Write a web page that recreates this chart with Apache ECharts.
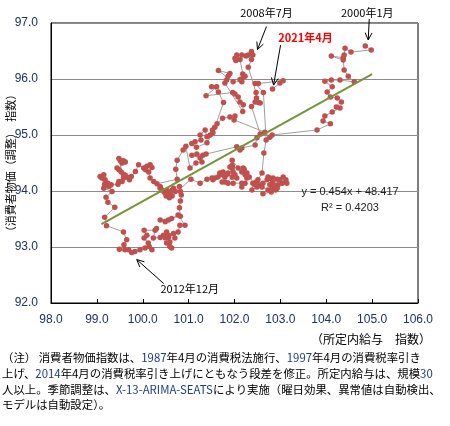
<!DOCTYPE html>
<html><head><meta charset="utf-8">
<script src="https://cdn.jsdelivr.net/npm/echarts@6/dist/echarts.min.js"></script>
<style>html,body{margin:0;padding:0;background:#fff}#c{width:450px;height:426px}</style>
</head><body><div id="c"></div>
<script>
// [所定内給与 指数, 消費者物価(調整) 指数] in time order, split by period
const path2000to2002 = [
[104.85,96.59],[104.98,96.52],[104.54,96.48],[104.41,96.55],[104.39,96.43],[104.37,96.38],[104.11,96.41],[104.37,96.34],[104.39,96.16],[104.48,96.05],[104.61,95.95],[104.30,95.98],[104.11,95.98],[103.97,95.96],[104.13,95.86],[104.02,95.77],[104.09,95.68],[104.24,95.66],[104.33,95.59],[104.22,95.50],[104.30,95.48],[104.13,95.41],[103.97,95.34],[103.93,95.25],[104.09,95.20],[103.80,95.09]
];
const path2003to2008 = [
[102.82,95.00],[102.77,94.96],[102.66,95.05],[101.99,95.27],[102.01,95.34],[101.90,95.32],[101.74,95.30],[101.62,95.20],[101.57,95.14],[101.52,95.09],[101.47,95.00],[101.40,94.97],[101.36,95.09],[101.25,95.00],[101.27,94.91],[101.14,94.88],[101.07,94.85],[101.17,94.78],[101.40,94.86],[101.53,95.04],[101.76,95.58],[101.65,95.77],[101.50,95.86],[101.61,95.86],[101.38,95.70],[101.96,95.76],[102.01,95.73],[102.08,95.68],[102.12,95.59],[102.19,95.54],[102.18,95.42],[101.79,95.93],[101.83,95.98],[101.86,96.05],[101.90,96.10],[101.65,96.15],[101.97,95.95],[102.16,95.95],[102.12,95.99],[102.19,96.03],[102.23,96.05],[102.18,96.09],[102.12,96.35],[102.03,96.33],[102.01,96.37],[102.05,96.43],[102.16,96.43],[102.25,96.41],[102.30,96.43],[102.40,96.43],[102.37,96.49]
];
const path2008to2009 = [
[102.37,96.35],[102.30,96.21],[102.47,95.76],[102.48,95.66],[102.56,95.57],[102.52,95.58],[102.45,95.59],[102.37,95.51],[102.56,95.02],[102.49,94.95],[102.45,94.82],[102.16,94.77],[102.12,94.73],[102.05,94.79],[101.38,94.66],[101.31,94.64],[101.18,94.66],[101.07,94.64],[101.25,94.59],[101.29,94.52],[101.16,94.50],[101.03,94.41],[100.94,94.80],[100.88,94.73],[100.75,94.55],[100.72,94.39],[100.75,94.21]
];
const path2010to2012 = [
[100.31,94.13],[100.24,94.17],[100.16,94.23],[100.13,94.34],[100.20,94.42],[100.16,94.47],[100.09,94.44],[100.06,94.38],[100.02,94.41],[99.91,94.47],[99.84,94.35],[99.75,94.26],[99.71,94.20],[99.68,94.24],[99.62,94.28],[99.58,94.30],[99.53,94.34],[99.48,94.38],[99.44,94.41],[99.55,94.50],[99.62,94.52],[99.58,94.54],[99.51,94.54],[99.48,94.58],[99.58,94.23],[99.55,94.17],[99.48,94.17],[99.46,94.12],[99.31,94.11],[99.26,94.08],[99.24,94.14],[99.18,94.20],[99.11,94.23],[99.15,94.29],[99.07,94.26],[99.17,94.12],[99.15,94.05],[99.33,93.99],[99.20,93.89],[99.24,93.80],[99.39,93.71],[99.17,93.53],[99.21,93.38],[99.58,93.27],[99.65,93.13],[99.59,93.04],[99.49,92.96],[99.61,92.95],[99.69,92.95],[99.76,92.90]
];
const path2013to2015 = [
[99.83,92.92],[99.94,92.95],[100.05,92.98],[100.14,93.01],[100.20,92.95],[100.12,93.07],[100.03,93.16],[100.09,93.21],[100.03,93.30],[100.27,93.30],[100.30,93.33],[100.23,93.16],[100.38,93.17],[100.49,93.16],[100.45,93.21],[100.52,93.27],[100.56,93.21],[100.67,93.24],[100.70,93.16],[100.59,93.09],[100.52,93.07],[100.59,93.01],[100.63,92.98],[100.56,93.17],[100.77,93.27],[100.81,93.39],[100.92,93.39],[100.77,93.57],[100.63,93.51],[100.56,93.48],[100.49,93.45],[100.38,93.48],[100.82,93.55],[100.80,93.70],[100.82,93.82],[100.84,93.93],[100.82,93.99],[100.80,94.08],[100.71,93.99],[100.67,94.05],[100.64,94.02],[100.60,93.98],[100.57,93.93],[100.53,94.01],[100.49,93.96],[100.46,93.99],[100.42,94.02],[100.38,94.05],[100.38,94.08],[100.51,93.91],[100.58,93.88],[100.64,93.91]
];
const path2016to2019 = [
[101.05,94.21],[101.25,94.14],[101.40,94.21],[101.51,94.23],[101.53,94.20],[101.57,94.23],[101.64,94.25],[101.68,94.32],[101.73,94.29],[101.75,94.34],[101.79,94.25],[101.84,94.30],[101.86,94.32],[101.95,94.25],[101.90,94.43],[101.95,94.41],[101.97,94.34],[102.01,94.29],[102.05,94.23],[101.73,94.16],[101.79,94.16],[101.86,94.14],[101.97,94.14],[102.16,94.14],[102.16,94.07],[102.23,94.14],[102.27,94.23],[102.32,94.25],[102.23,94.29],[102.21,94.39],[102.19,94.41],[102.16,94.34],[101.95,94.46],[101.95,94.55],[102.08,94.41],[102.27,94.32],[102.45,94.11],[102.60,94.07],[102.73,94.02],[102.62,93.95],[102.80,93.98],[102.93,94.05],[102.95,94.11],[103.04,94.14],[103.14,94.14],[103.12,94.20],[103.06,94.25],[102.99,94.20],[102.93,94.21],[102.84,94.23],[102.77,94.11],[102.82,94.05],[102.90,94.02],[102.88,94.07],[102.84,94.14],[102.82,94.20],[102.77,94.23],[102.73,94.25],[102.71,94.20],[102.62,94.14],[102.56,94.11],[102.49,94.07],[102.38,94.02],[102.40,94.14],[102.47,94.16],[102.51,94.20],[102.60,94.32]
];
const path2020to2021 = [
[102.64,94.68],[102.69,94.91],[102.63,95.76],[102.45,95.92],[102.52,95.92],[103.06,95.97],[102.99,95.93],[102.83,95.82]
];

const xTickValues = [98,99,100,101,102,103,104,105,106];
const yTickValues = [92,93,94,95,96,97];
const trendSlope = 0.454;
const trendIntercept = 48.417;
const trendWageRange = [99.1, 105.0];
const trendEquationText = 'y = 0.454x + 48.417';
const trendR2Text = 'R² = 0.4203';

const annotLabels = ['2000年1月', '2008年7月', '2012年12月', '2021年4月'];
const annotWage = [104.85, 102.37, 99.76, 102.83];
const annotCpi = [96.59, 96.49, 92.90, 95.82];

const allPoints = [].concat(path2000to2002, path2003to2008, path2008to2009, path2010to2012, path2013to2015, path2016to2019, path2020to2021);
const trendData = trendWageRange.map(x => [x, trendSlope * x + trendIntercept]);

const NAVY = '#1F3066';
const chart = echarts.init(document.getElementById('c'), null, {renderer: 'canvas'});
chart.setOption({
  animation: false,
  backgroundColor: '#fff',
  grid: {left: 51, top: 23, width: 367, height: 280, show: true, borderColor: '#000', borderWidth: 1, containLabel: false},
  xAxis: {
    type: 'value', min: xTickValues[0], max: xTickValues[xTickValues.length-1], interval: 1,
    axisLine: {lineStyle: {color: '#000', width: 1}},
    axisTick: {show: true, inside: true, length: 4, lineStyle: {color: '#000'}},
    axisLabel: {color: NAVY, fontSize: 12, fontFamily: 'Liberation Sans', margin: 11, formatter: v => v.toFixed(1)},
    splitLine: {show: false}
  },
  yAxis: {
    type: 'value', min: yTickValues[0], max: yTickValues[yTickValues.length-1], interval: 1,
    axisLine: {show: true, lineStyle: {color: '#000', width: 1}},
    axisTick: {show: false},
    axisLabel: {color: NAVY, fontSize: 12, fontFamily: 'Liberation Sans', margin: 13, formatter: v => v.toFixed(1)},
    splitLine: {show: true, lineStyle: {color: '#8C8C8C', width: 1}}
  },
  series: [
    {type: 'line', data: allPoints, symbol: 'circle', symbolSize: 5.5, showSymbol: true,
     itemStyle: {color: '#C0504D', borderWidth: 0},
     lineStyle: {color: '#A0A0A0', width: 1}, z: 2},
    {type: 'line', data: trendData, symbol: 'none', lineStyle: {color: '#77933C', width: 2}, z: 3}
  ]
});

// annotation arrows: offsets (px) from the annotated point for arrow tip, tail and label
const annotGeom = [
  {tip: [3, -6], tail: [4, -27], text: [2, -33], color: '#000', bold: false},
  {tip: [6, -2], tail: [15, -25], text: [15, -39], color: '#000', bold: false},
  {tip: [5, 7], tail: [32, 31], text: [58, 36], color: '#000', bold: false},
  {tip: [1, -4], tail: [8, -44], text: [33, -51], color: '#FF0000', bold: true}
];
const graphics = [];
annotLabels.forEach((lab, i) => {
  const p = chart.convertToPixel({seriesIndex: 0}, [annotWage[i], annotCpi[i]]);
  const g = annotGeom[i];
  const tip = [p[0] + g.tip[0], p[1] + g.tip[1]];
  const tail = [p[0] + g.tail[0], p[1] + g.tail[1]];
  const ang = Math.atan2(tip[1] - tail[1], tip[0] - tail[0]);
  const L = 8, a = 0.45;
  const h1 = [tip[0] - L * Math.cos(ang - a), tip[1] - L * Math.sin(ang - a)];
  const h2 = [tip[0] - L * Math.cos(ang + a), tip[1] - L * Math.sin(ang + a)];
  graphics.push({type: 'polyline', shape: {points: [tail, tip]}, style: {stroke: '#000', lineWidth: 1, fill: null}, z: 10});
  graphics.push({type: 'polyline', shape: {points: [h1, tip, h2]}, style: {stroke: '#000', lineWidth: 1, fill: null}, z: 10});
  graphics.push({type: 'text', x: p[0] + g.text[0], y: p[1] + g.text[1], z: 10,
    style: {text: lab, fill: g.color, font: (g.bold ? 'bold ' : '') + '11px "Noto Sans CJK JP"', textAlign: 'center', textVerticalAlign: 'middle'}});
});

// trendline equation label
graphics.push({type: 'text', x: 350, y: 192, z: 10, style: {text: trendEquationText, fill: '#222', font: '11px "Liberation Sans"', textAlign: 'center', textVerticalAlign: 'middle'}});
graphics.push({type: 'text', x: 350, y: 208, z: 10, style: {text: trendR2Text, fill: '#222', font: '11px "Liberation Sans"', textAlign: 'center', textVerticalAlign: 'middle'}});

// axis titles
graphics.push({type: 'text', x: 11, y: 163, rotation: Math.PI / 2, z: 10,
  style: {text: '（消費者物価（調整）　指数）', fill: '#000', font: '11px "Noto Sans CJK JP"', textAlign: 'center', textVerticalAlign: 'middle'}});
graphics.push({type: 'text', x: 431, y: 339, z: 10,
  style: {text: '（所定内給与　指数）', fill: '#000', font: '12px "Noto Sans CJK JP"', textAlign: 'right', textVerticalAlign: 'middle'}});

// footnote
const noteFont = '11.4px "Noto Sans CJK JP"';
const noteLines = [
  '（注） 消費者物価指数は、{n|1987}年4月の消費税法施行、{n|1997}年4月の消費税率引き',
  '上げ、{n|2014}年4月の消費税率引き上げにともなう段差を修正。所定内給与は、規模{n|30}',
  '人以上。季節調整は、{n|X-13-ARIMA-SEATS}により実施（曜日効果、異常値は自動検出、',
  'モデルは自動設定）。'
];
noteLines.forEach((t, i) => {
  graphics.push({type: 'text', x: 2, y: 358 + i * 15.6, z: 10,
    style: {text: t, fill: '#000', font: noteFont, textVerticalAlign: 'middle',
      rich: {n: {fill: '#1F3B8C', font: noteFont}}}});
});

chart.setOption({graphic: graphics});
</script></body></html>
